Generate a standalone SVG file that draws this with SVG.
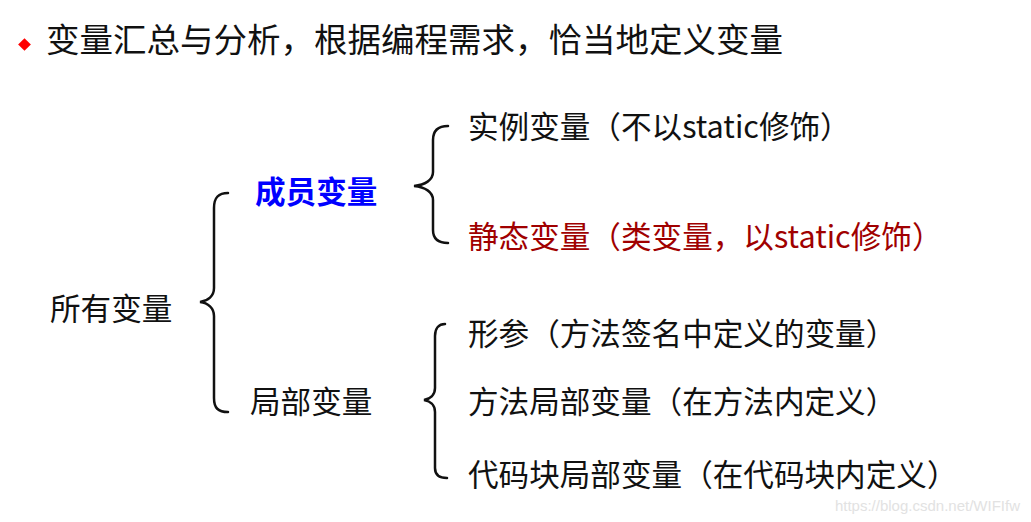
<svg xmlns="http://www.w3.org/2000/svg" width="1031" height="522" viewBox="0 0 1031 522">
<style>
.t{font-family:"Microsoft YaHei","Noto Sans CJK SC","Noto Sans",sans-serif;font-size:30.6px;fill:#111}
.red{fill:#A00000}
.blue{fill:#0000FF;font-weight:bold}
.br{fill:none;stroke:#111;stroke-width:2.5;stroke-linecap:round}
</style>
<rect width="1031" height="522" fill="#fff"/>
<g id="title">
<rect x="20" y="40" width="9" height="9" fill="#FF0000" transform="rotate(45 24.5 44.5)"/>
<text class="t" x="46" y="52" style="font-size:33.5px">变量汇总与分析，根据编程需求，恰当地定义变量</text>
</g>
<g id="connectors">
<path class="br" d="M228,193 C218,193 214,198 214,208 L214,288 C214,296 208,301 200,302 C208,303 214,308 214,316 L214,398 C214,408 218,412 228,412"/>
<path class="br" d="M448,126 C438,126 433,131 433,140 L433,172 C433,180 425,185 414,186 C425,187 433,192 433,200 L433,230 C433,239 438,243 448,243"/>
<path class="br" d="M445,324 C439,324 435,328 435,336 L435,388 C435,395 430,399 424,400 C430,401 435,405 435,412 L435,468 C435,475 439,478 447,478"/>
</g>
<g id="all"><text class="t" x="50" y="320">所有变量</text></g>
<g id="member"><text class="t blue" x="255" y="203">成员变量</text></g>
<g id="local"><text class="t" x="250" y="413">局部变量</text></g>
<g id="instance"><text class="t" x="468" y="138">实例变量（不以static修饰）</text></g>
<g id="static"><text class="t red" x="468" y="248">静态变量（类变量，以static修饰）</text></g>
<g id="param"><text class="t" x="468" y="345">形参（方法签名中定义的变量）</text></g>
<g id="methodlocal"><text class="t" x="468" y="413">方法局部变量（在方法内定义）</text></g>
<g id="blocklocal"><text class="t" x="468" y="486">代码块局部变量（在代码块内定义）</text></g>
<g id="watermark"><text x="1020" y="511" text-anchor="end" style="font-family:'Liberation Sans',Arial,sans-serif;font-size:15px;fill:#e2e2e2">https://blog.csdn.net/WIFIfw</text></g>
</svg>
